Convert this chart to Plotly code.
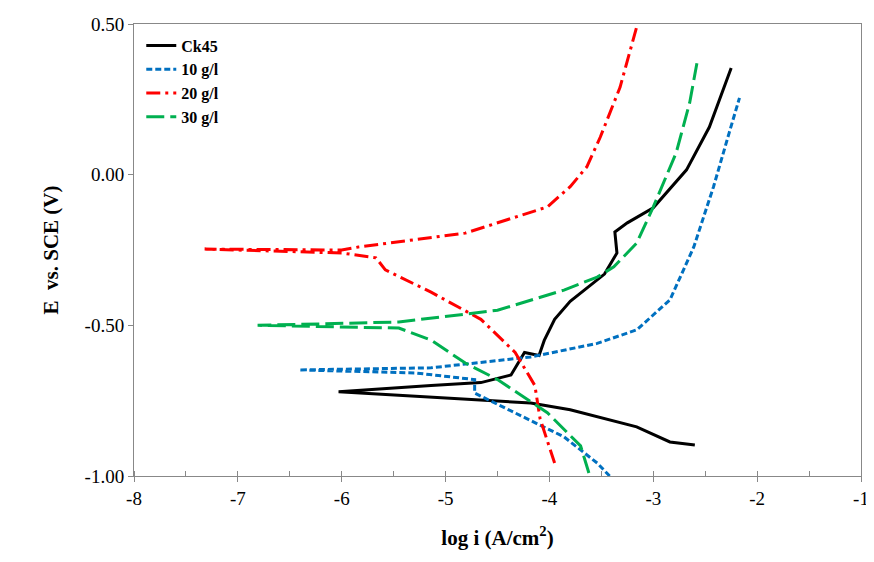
import plotly.graph_objects as go

ck45_x = [-2.60,-2.84,-3.16,-3.80,-4.18,-4.66,-6.03,-5.14,-4.66,-4.37,-4.24,-4.10,-4.05,-3.95,-3.80,-3.47,-3.35,-3.37,-3.25,-3.0,-2.68,-2.46,-2.25]
ck45_y = [-0.897,-0.887,-0.837,-0.78,-0.758,-0.748,-0.72,-0.70,-0.69,-0.665,-0.59,-0.60,-0.55,-0.48,-0.42,-0.33,-0.26,-0.19,-0.16,-0.11,0.016,0.158,0.354]
g10_x = [-3.42,-3.54,-3.86,-4.33,-4.72,-4.72,-5.29,-6.41,-5.14,-4.18,-3.54,-3.16,-2.84,-2.61,-2.42,-2.27,-2.17]
g10_y = [-1.0,-0.957,-0.87,-0.79,-0.725,-0.68,-0.658,-0.648,-0.641,-0.605,-0.56,-0.515,-0.416,-0.24,-0.04,0.138,0.255]
g20_x = [-3.95,-4.09,-4.14,-4.33,-4.66,-5.14,-5.58,-5.67,-6.0,-7.32,-6.0,-5.84,-4.81,-4.5,-4.02,-3.80,-3.64,-3.51,-3.32,-3.16]
g20_y = [-0.957,-0.81,-0.70,-0.59,-0.48,-0.39,-0.316,-0.276,-0.26,-0.247,-0.25,-0.24,-0.194,-0.16,-0.107,-0.04,0.026,0.125,0.29,0.49]
g30_x = [-3.62,-3.70,-4.02,-4.5,-4.81,-5.14,-5.45,-6.81,-5.45,-4.5,-3.86,-3.54,-3.38,-3.16,-3.0,-2.78,-2.65,-2.58]
g30_y = [-0.99,-0.90,-0.79,-0.68,-0.625,-0.549,-0.509,-0.50,-0.489,-0.45,-0.383,-0.34,-0.306,-0.227,-0.107,0.072,0.238,0.37]
x_ticks = [-8, -7, -6, -5, -4, -3, -2, -1]
y_ticks = [-1.0, -0.5, 0.0, 0.5]

series = [("Ck45", ck45_x, ck45_y, "black", "solid"),
          ("10 g/l", g10_x, g10_y, "#0070C0", "6px,3px"),
          ("20 g/l", g20_x, g20_y, "#FF0000", "14px,5px,3px,5px"),
          ("30 g/l", g30_x, g30_y, "#00B050", "18px,6px")]

fig = go.Figure()
for name, xs, ys, c, d in series:
    fig.add_trace(go.Scatter(x=xs, y=ys, name=name, mode="lines",
                             line=dict(color=c, dash=d, width=3)))

font = dict(family="Liberation Serif", size=19, color="black")
fig.update_layout(
    width=866, height=546, margin=dict(l=126, r=13, t=16, b=78),
    plot_bgcolor="white", paper_bgcolor="white", font=font,
    legend=dict(x=0.01, y=0.99, xanchor="left", yanchor="top",
                font=dict(family="Liberation Serif", size=16, color="black", weight="bold"),
                bgcolor="rgba(0,0,0,0)"),
    xaxis=dict(range=[-8, -1], tickvals=x_ticks, ticktext=[str(v) for v in x_ticks],
               showgrid=False, zeroline=False, automargin=False,
               showline=True, linecolor="#888", mirror=True, ticks="outside",
               ticklen=5, tickcolor="#888",
               minor=dict(dtick=0.5, ticks="inside", ticklen=5, tickcolor="#888"),
               title=dict(text="<b>log i (A/cm<sup>2</sup>)</b>", font=dict(size=21), standoff=22)),
    yaxis=dict(range=[-1, 0.5], tickvals=y_ticks, ticktext=["%.2f" % v for v in y_ticks],
               showgrid=False, zeroline=False, automargin=False,
               showline=True, linecolor="#888", mirror=True, ticks="outside",
               ticklen=5, tickcolor="#888",
               title=dict(text="<b>E  vs. SCE (V)</b>", font=dict(size=21), standoff=20)),
)
fig.write_html("out.html")
